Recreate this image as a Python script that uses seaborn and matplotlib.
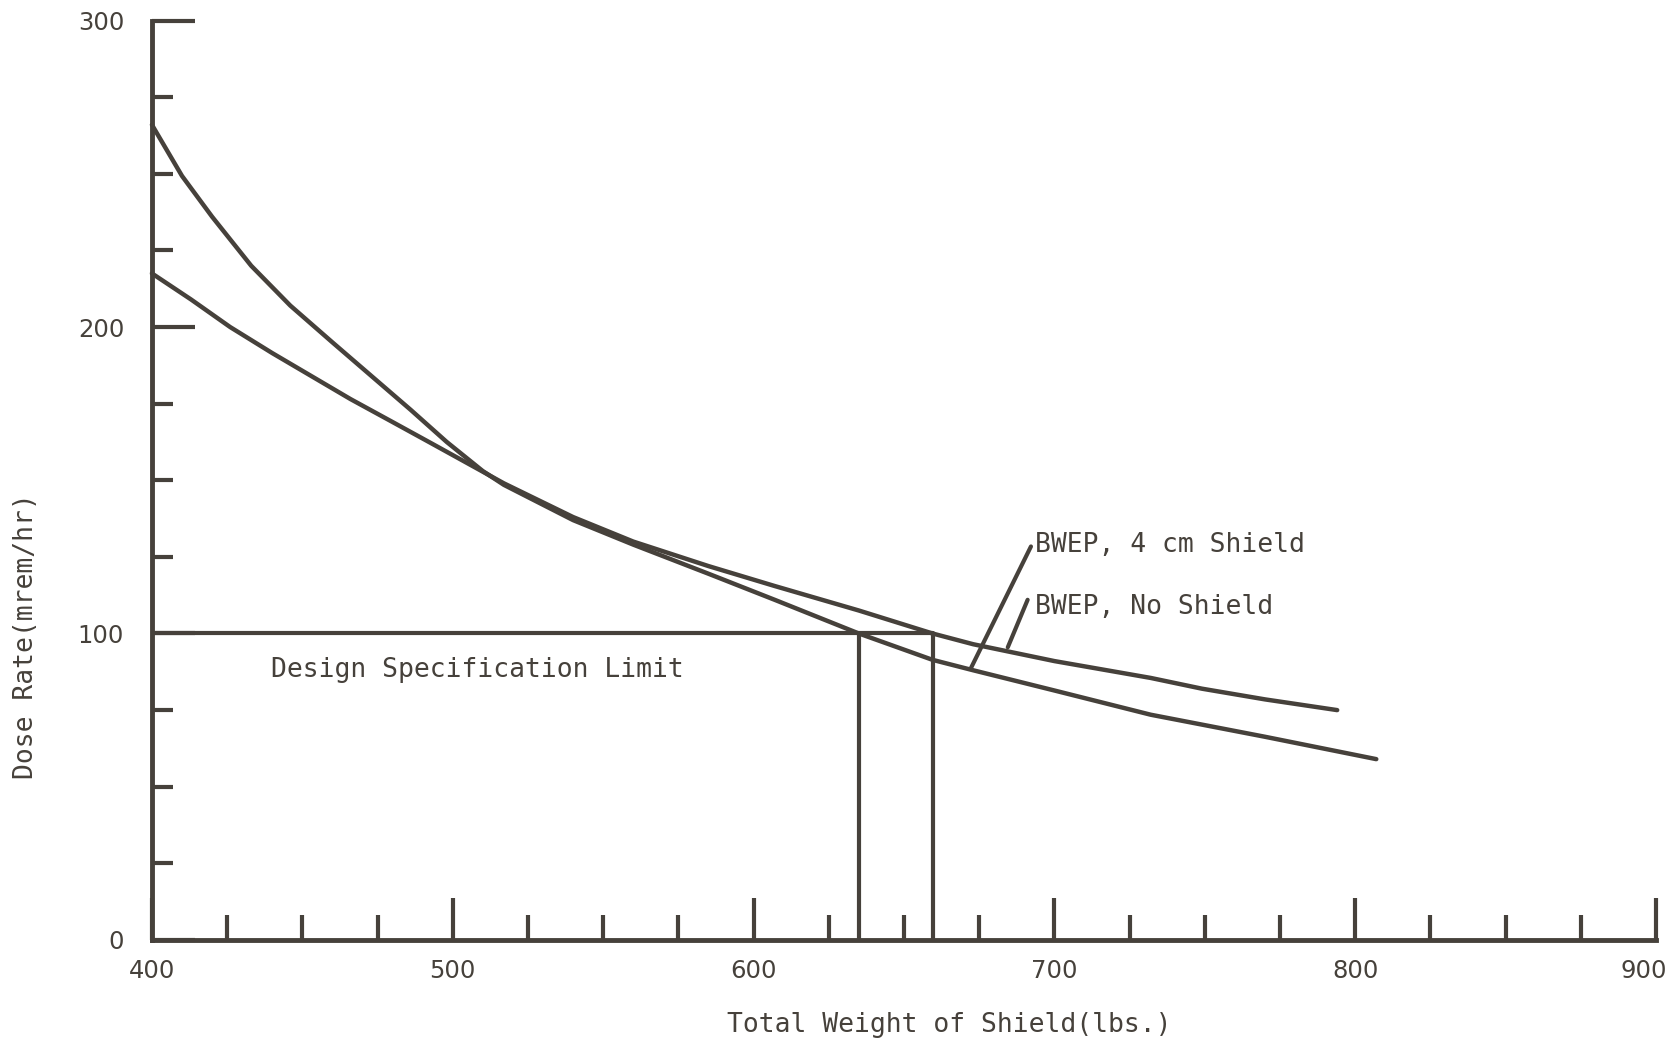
import numpy as np
import pandas as pd
import matplotlib
matplotlib.use("Agg")
import matplotlib.pyplot as plt
import matplotlib.transforms as mtransforms
from matplotlib.ticker import MultipleLocator
import seaborn as sns

# ---- data ----
no_shield_x = [400, 413, 426, 440, 453, 466, 480, 493, 505, 517, 540, 560, 585, 607, 635, 659.5,
               673, 700, 732, 749, 770, 794]
no_shield_y = [217.5, 209, 200, 191.5, 184, 176.5, 169, 162, 155.5, 149, 138, 130, 122, 115.5, 107.5, 100,
               96.5, 91, 85.5, 82, 78.5, 75]

cm4_x = [400, 410, 420, 433, 446, 460, 473, 486, 498, 510, 517, 540, 560, 585, 607, 635, 659.5,
         673, 700, 732, 770, 807]
cm4_y = [266, 249.3, 236, 220, 207, 195, 184, 173, 162.5, 153, 148.5, 137, 129, 119.5, 111, 100, 91.4,
         88, 81.4, 73.5, 66.3, 59]

limit_value = 100
limit_end_x = 659.5
cross_4cm_x = 635
cross_noshield_x = 659.5

x_ticks = [400, 500, 600, 700, 800, 900]
y_ticks = [0, 100, 200, 300]
x_ticklabels = ["400", "500", "600", "700", "800", "900"]
y_ticklabels = ["0", "100", "200", "300"]

label_4cm = "BWEP, 4 cm Shield"
label_noshield = "BWEP, No Shield"
limit_text = "Design Specification Limit"
xlabel = "Total Weight of Shield(lbs.)"
ylabel = "Dose Rate(mrem/hr)"

INK = "#46413b"

sns.set_style("white")
plt.rcParams["font.family"] = ["DejaVu Sans"]

fig = plt.figure(figsize=(16.75, 10.4), dpi=100)
ax = fig.add_axes([0.0907, 0.0962, 0.898, 0.884])

df_a = pd.DataFrame({"x": cm4_x, "y": cm4_y})
df_b = pd.DataFrame({"x": no_shield_x, "y": no_shield_y})
sns.lineplot(data=df_a, x="x", y="y", color=INK, linewidth=3.2, ax=ax, estimator=None,
             clip_on=False, solid_joinstyle="round")
sns.lineplot(data=df_b, x="x", y="y", color=INK, linewidth=3.2, ax=ax, estimator=None,
             clip_on=False, solid_joinstyle="round")

# design limit lines
ax.plot([400, limit_end_x], [limit_value, limit_value], color=INK, lw=3.0, solid_capstyle="butt")
ax.plot([cross_4cm_x, cross_4cm_x], [0, limit_value], color=INK, lw=3.0)
ax.plot([cross_noshield_x, cross_noshield_x], [0, limit_value], color=INK, lw=3.0)

mono = "DejaVu Sans Mono"
FS = 19
ax.text(439.7, 88.2, limit_text, fontsize=FS, family=mono, color=INK, va="center", ha="left")

# leader labels
ax.text(693.5, 129, label_4cm, fontsize=FS, family=mono, color=INK, va="center", ha="left")
ax.text(693.5, 108.5, label_noshield, fontsize=FS, family=mono, color=INK, va="center", ha="left")
ax.plot([692.2, 672.3], [128.4, 88.8], color=INK, lw=3.0)
ax.plot([691.1, 684.5], [111, 95.5], color=INK, lw=3.0)

ax.set_xlim(400, 900)
ax.set_ylim(0, 300)

for s in ["top", "right"]:
    ax.spines[s].set_visible(False)
for s in ["left", "bottom"]:
    ax.spines[s].set_color(INK)
    ax.spines[s].set_linewidth(3.5)

ax.set_xticks(x_ticks)
ax.set_xticklabels(x_ticklabels)
ax.set_yticks(y_ticks)
ax.set_yticklabels(y_ticklabels)
ax.xaxis.set_minor_locator(MultipleLocator(25))
ax.yaxis.set_minor_locator(MultipleLocator(25))

ax.tick_params(axis="x", which="both", bottom=True, top=False)
ax.tick_params(axis="y", which="both", left=True, right=False)
ax.tick_params(axis="x", which="major", direction="in", length=30, width=3, color=INK,
               labelsize=17.5, labelcolor=INK, pad=14)
ax.tick_params(axis="x", which="minor", direction="in", length=18, width=3, color=INK)
ax.tick_params(axis="y", which="major", direction="in", length=31, width=3, color=INK,
               labelsize=17.5, labelcolor=INK, pad=20)
ax.tick_params(axis="y", which="minor", direction="in", length=15, width=3, color=INK)

# last x label sits a little left of its tick in the reference
lab = ax.get_xticklabels()[-1]
lab.set_transform(lab.get_transform() + mtransforms.ScaledTranslation(-0.12, 0, fig.dpi_scale_trans))

ax.set_xlabel(xlabel, fontsize=FS, family=mono, color=INK)
ax.xaxis.set_label_coords(0.53, -0.078)
ax.set_ylabel(ylabel, fontsize=FS, family=mono, color=INK)
ax.yaxis.set_label_coords(-0.075, 0.33)

fig.savefig("out.png", dpi=100, facecolor="white")
